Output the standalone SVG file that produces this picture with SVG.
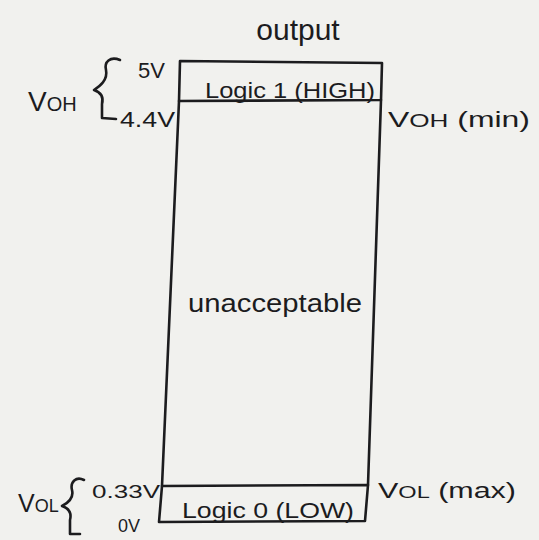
<svg xmlns="http://www.w3.org/2000/svg" width="539" height="540" viewBox="0 0 539 540">
  <style>
    .ink { fill: none; stroke: #1c1c1e; stroke-width: 2.6; stroke-linecap: round; stroke-linejoin: round; }
    .t { font-family: "Liberation Sans", "DejaVu Sans", sans-serif; fill: #1c1c1e; }
    .lbl { font-size: 22px; }
    .sm { font-size: 18px; }
  </style>
  <rect width="539" height="540" fill="#f1f1ee"/>

  <text class="t" x="298" y="40" font-size="30" text-anchor="middle">output</text>

  <!-- output level bands -->
  <g id="high-band">
    <path class="ink" d="M180 61 L382 63 L381 100 L179 101 Z"/>
    <text class="t lbl" x="205" y="98" textLength="170" lengthAdjust="spacingAndGlyphs">Logic 1 (HIGH)</text>
  </g>
  <g id="unacceptable-band">
    <path class="ink" d="M179 101 L162 486 M381 100 L368 485"/>
    <text class="t" x="188" y="312" font-size="25" textLength="174" lengthAdjust="spacingAndGlyphs">unacceptable</text>
  </g>
  <g id="low-band">
    <path class="ink" d="M162 486 L368 485 L365 521 L159 522 Z"/>
    <text class="t lbl" x="182" y="518" textLength="172" lengthAdjust="spacingAndGlyphs">Logic 0 (LOW)</text>
  </g>

  <!-- voltage labels -->
  <g id="voh-range">
    <text class="t" x="28" y="111" font-size="28">V<tspan font-size="20">OH</tspan></text>
    <path class="ink" d="M120 60 C110 56 104 62 106 70 C108 80 100 86 94 90 C100 92 104 96 102 104 L102 118 L116 119"/>
    <text class="t lbl" x="138" y="78">5V</text>
    <text class="t lbl" x="120" y="127" textLength="55" lengthAdjust="spacingAndGlyphs">4.4V</text>
    <text class="t lbl" x="388" y="127" textLength="142" lengthAdjust="spacingAndGlyphs">V<tspan font-size="18">OH</tspan> (min)</text>
  </g>
  <g id="vol-range">
    <text class="t" x="18" y="512" font-size="25">V<tspan font-size="18">OL</tspan></text>
    <path class="ink" d="M84 480 C76 476 70 482 72 490 C74 498 68 503 62 506 C68 508 72 512 70 520 L70 534 L80 534"/>
    <text class="t sm" x="92" y="498" textLength="68" lengthAdjust="spacingAndGlyphs">0.33V</text>
    <text class="t sm" x="118" y="532">0V</text>
    <text class="t lbl" x="378" y="498" textLength="138" lengthAdjust="spacingAndGlyphs">V<tspan font-size="17">OL</tspan> (max)</text>
  </g>
</svg>
